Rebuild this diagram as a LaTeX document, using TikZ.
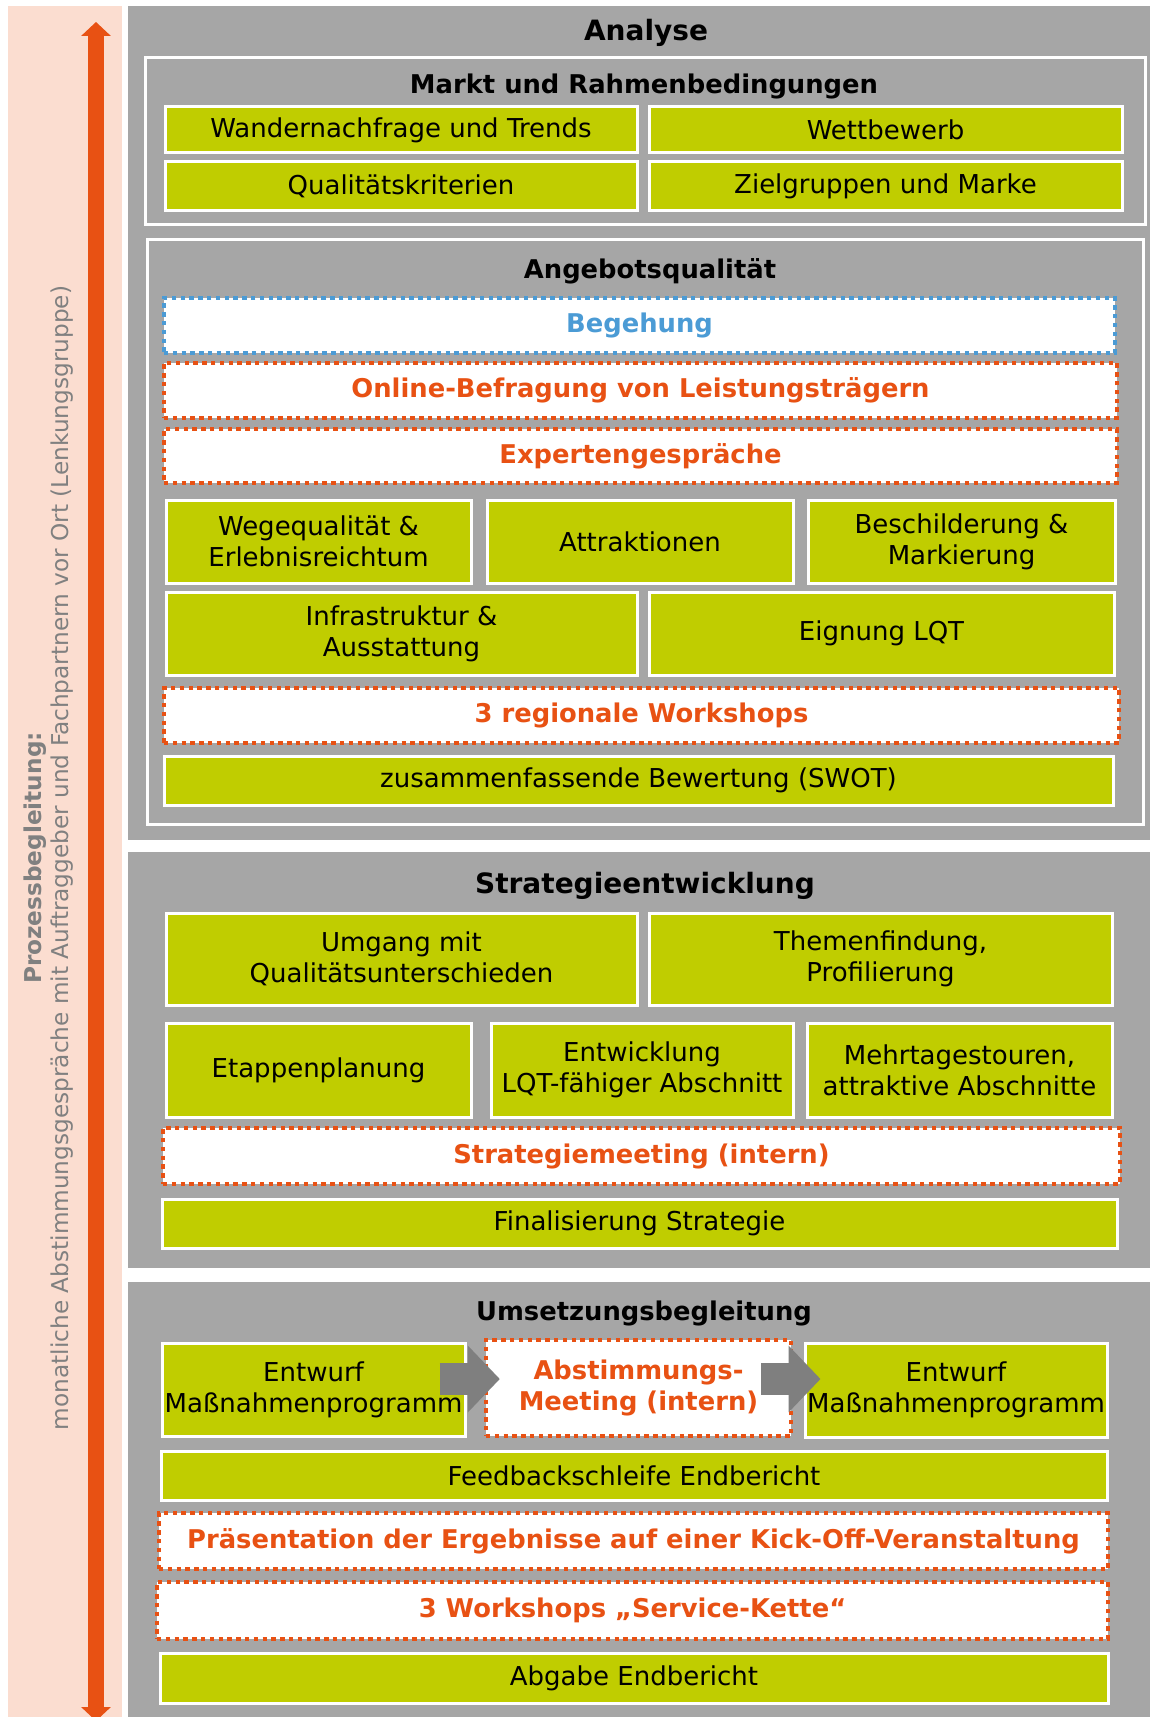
\documentclass[tikz,border=0pt]{standalone}
\usepackage{fontspec}
\setmainfont{DejaVu Sans}
\usepackage{tikz}
\usetikzlibrary{arrows.meta}

\definecolor{wgreen}{RGB}{192,205,0}
\definecolor{worange}{RGB}{232,81,19}
\definecolor{wblue}{RGB}{75,155,213}
\definecolor{wgraybg}{RGB}{166,166,166}
\definecolor{wdark}{RGB}{127,127,127}
\definecolor{wpink}{RGB}{251,221,208}
\definecolor{wtext}{RGB}{128,128,128}

\tikzstyle{section} = [rectangle, fill=wgraybg, draw=none, inner sep=0pt]
\tikzstyle{band} = [rectangle, fill=wpink, draw=none, inner sep=0pt]
\tikzstyle{frame} = [rectangle, draw=white, line width=1.5pt, inner sep=0pt]
\tikzstyle{greenbox} = [rectangle, fill=wgreen, draw=white, line width=1.5pt, align=center, inner sep=0pt, font=\fontsize{13}{15.5}\selectfont]
\tikzstyle{dotbox} = [rectangle, fill=white, draw=worange, line width=2.2pt, dash pattern=on 2.2pt off 2.2pt, text=worange, align=center, inner sep=0pt, font=\bfseries\fontsize{12.9}{15.5}\selectfont]
\tikzstyle{bluebox} = [dotbox, draw=wblue, text=wblue]
\tikzstyle{heading} = [font=\bfseries\fontsize{14}{17}\selectfont]
\tikzstyle{subheading} = [font=\bfseries\fontsize{12.9}{15.5}\selectfont]
\tikzstyle{sidetext} = [align=center, text=wtext, font=\fontsize{11.6}{13.5}\selectfont]
\tikzstyle{blockarrow} = [draw=wdark, line width=16pt, -{Triangle[width=32.5pt,length=16pt]}]
\tikzstyle{sidearrow} = [draw=worange, line width=8pt, {Triangle[width=14.5pt,length=7pt]}-{Triangle[width=14.5pt,length=7pt]}]

% style, name, x1, y1, x2, y2, text (pixel corners)
\newcommand{\boxcell}[7]{\node[#1, minimum width={(#5-#3)*0.5pt}, minimum height={(#6-#4)*0.5pt}] (#2) at ({(#3+#5)/2},{(#4+#6)/2}) {#7};}

\begin{document}
\begin{tikzpicture}[x=0.5pt, y=-0.5pt]
\useasboundingbox[fill=white] (0,0) rectangle (1150,1717);

% backgrounds
\boxcell{band}{side band}{8}{6}{122}{1717}{}
\boxcell{section}{sec analyse}{128}{6}{1150}{840}{}
\boxcell{section}{sec strategie}{128}{852}{1150}{1268}{}
\boxcell{section}{sec umsetzung}{128}{1282}{1150}{1717}{}

% process side
\coordinate (ptop) at (96,22);
\coordinate (pbot) at (96,1721);
\draw [sidearrow] (ptop) -- (pbot);
\node (side) [sidetext, rotate=90] at (49,858) {\textbf{Prozessbegleitung:}\\monatliche Abstimmungsgespräche mit Auftraggeber und Fachpartnern vor Ort (Lenkungsgruppe)};

% Analyse
\node (analyse) [heading] at (646,33) {Analyse};
\boxcell{frame}{markt}{145}{58}{1145}{225}{}
\node (marktT) [subheading] at (644,86) {Markt und Rahmenbedingungen};
\boxcell{greenbox}{wander}{165}{107}{637}{153}{Wandernachfrage und Trends}
\boxcell{greenbox}{wettb}{649}{107}{1122}{153}{Wettbewerb}
\boxcell{greenbox}{quali}{165}{162}{637}{211}{Qualitätskriterien}
\boxcell{greenbox}{ziel}{649}{162}{1122}{211}{Zielgruppen und Marke}

\boxcell{frame}{angebot}{147}{240}{1143}{824}{}
\node (angebotT) [subheading] at (650,271) {Angebotsqualität};
\boxcell{bluebox}{begeh}{164}{298}{1115}{353}{Begehung}
\boxcell{dotbox}{online}{164}{363}{1117}{418}{Online-Befragung von Leistungsträgern}
\boxcell{dotbox}{experten}{164}{429}{1117}{483}{Expertengespräche}
\boxcell{greenbox}{wege}{166}{500}{471}{583}{Wegequalität \&\\Erlebnisreichtum}
\boxcell{greenbox}{attr}{487}{500}{793}{583}{Attraktionen}
\boxcell{greenbox}{beschild}{808}{500}{1115}{583}{Beschilderung \&\\Markierung}
\boxcell{greenbox}{infra}{166}{592}{637}{675}{Infrastruktur \&\\Ausstattung}
\boxcell{greenbox}{eignung}{649}{592}{1114}{675}{Eignung LQT}
\boxcell{dotbox}{regio}{164}{688}{1119}{743}{3 regionale Workshops}
\boxcell{greenbox}{swot}{164}{756}{1113}{805}{zusammenfassende Bewertung (SWOT)}

% Strategieentwicklung
\node (strategie) [heading] at (645,886) {Strategieentwicklung};
\boxcell{greenbox}{umgang}{166}{913}{637}{1005}{Umgang mit\\Qualitätsunterschieden}
\boxcell{greenbox}{themen}{649}{913}{1112}{1005}{Themenfindung,\\Profilierung}
\boxcell{greenbox}{etappen}{166}{1023}{471}{1117}{Etappenplanung}
\boxcell{greenbox}{lqt}{491}{1023}{793}{1117}{Entwicklung\\LQT-fähiger Abschnitt}
\boxcell{greenbox}{mehrtag}{807}{1023}{1112}{1117}{Mehrtagestouren,\\attraktive Abschnitte}
\boxcell{dotbox}{meeting}{163}{1128}{1120}{1184}{Strategiemeeting (intern)}
\boxcell{greenbox}{final}{162}{1199}{1117}{1248}{Finalisierung Strategie}

% Umsetzungsbegleitung
\node (umsetzung) [subheading] at (644,1313) {Umsetzungsbegleitung};
\boxcell{greenbox}{entwA}{162}{1343}{465}{1436}{Entwurf\\Maßnahmenprogramm}
\boxcell{dotbox}{abst}{486}{1340}{791}{1436}{Abstimmungs-\\Meeting (intern)}
\boxcell{greenbox}{entwB}{805}{1343}{1107}{1437}{Entwurf\\Maßnahmenprogramm}
\boxcell{greenbox}{feedback}{161}{1451}{1107}{1500}{Feedbackschleife Endbericht}
\boxcell{dotbox}{praes}{159}{1513}{1108}{1569}{Präsentation der Ergebnisse auf einer Kick-Off-Veranstaltung}
\boxcell{dotbox}{service}{157}{1582}{1108}{1639}{3 Workshops „Service-Kette“}
\boxcell{greenbox}{abgabe}{160}{1653}{1108}{1703}{Abgabe Endbericht}

\coordinate (midrow) at (0,1379);
\draw [blockarrow] ([xshift=-13.5pt]entwA.east |- midrow) -- ([xshift=8pt]abst.west |- midrow);
\draw [blockarrow] ([xshift=-16pt]abst.east |- midrow) -- ([xshift=8.5pt]entwB.west |- midrow);
\end{tikzpicture}
\end{document}
